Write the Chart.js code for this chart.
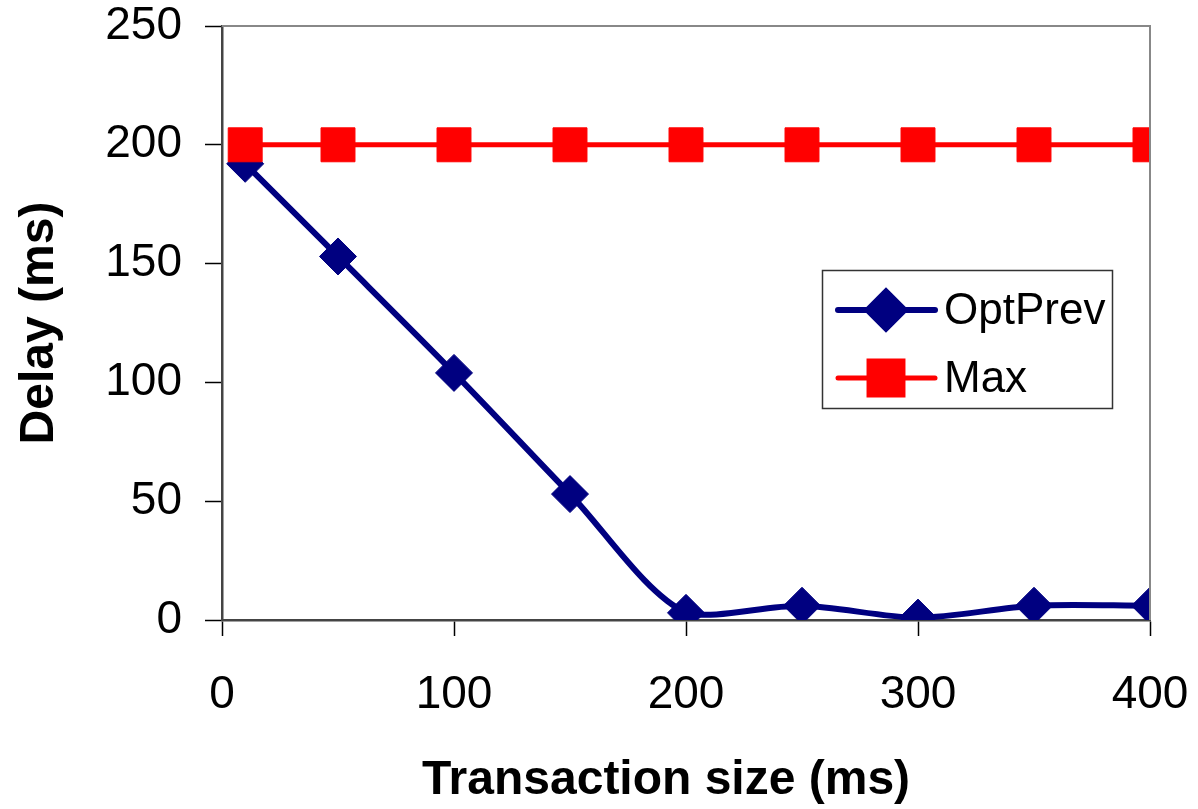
<!DOCTYPE html>
<html>
<head>
<meta charset="utf-8">
<script src="https://cdn.jsdelivr.net/npm/chart.js@4.4.1/dist/chart.umd.min.js"></script>
<style>
html,body{margin:0;padding:0;background:#fff;}
canvas{display:block;}
</style>
</head>
<body>
<canvas id="c" width="1198" height="809"></canvas>
<script>
// ---- data ----
const transactionSizes = [10, 50, 100, 150, 200, 250, 300, 350, 400];
const optPrevDelay = [192, 153, 104, 53, 3, 6, 1, 6, 6];
const maxDelay = [200, 200, 200, 200, 200, 200, 200, 200, 200];
const xTicks = [0, 100, 200, 300, 400];
const yTicks = [0, 50, 100, 150, 200, 250];
const seriesNames = ['OptPrev', 'Max'];
const xTitle = 'Transaction size (ms)';
const yTitle = 'Delay (ms)';

const FONT = '"Liberation Sans", Arial, sans-serif';
const NAVY = '#000080';
const RED = '#FF0000';

const toPoints = (xs, ys) => xs.map((x, i) => ({x: x, y: ys[i]}));

const frameAndLegend = {
  id: 'frameAndLegend',
  afterDatasetsDraw(chart) {
    const ctx = chart.ctx;
    const a = chart.chartArea;
    ctx.save();
    ctx.strokeStyle = '#888888';
    ctx.lineWidth = 2;
    ctx.beginPath();
    ctx.moveTo(a.left, a.top);
    ctx.lineTo(a.right, a.top);
    ctx.lineTo(a.right, a.bottom);
    ctx.stroke();
    ctx.restore();
  },
  afterDraw(chart) {
    const ctx = chart.ctx;
    const a = chart.chartArea;
    ctx.save();
    // x axis title (Excel centres it on the whole chart, slightly left of plot centre)
    ctx.fillStyle = '#000000';
    ctx.font = 'bold 48px ' + FONT;
    ctx.textAlign = 'center';
    ctx.textBaseline = 'middle';
    ctx.fillText(xTitle, (a.left + a.right) / 2 - 20, 781);

    const bx = 822, by = 270, bw = 290, bh = 138;
    ctx.fillStyle = '#ffffff';
    ctx.fillRect(bx, by, bw, bh);
    ctx.strokeStyle = '#333333';
    ctx.lineWidth = 1.5;
    ctx.strokeRect(bx + 0.5, by + 0.5, bw, bh);
    const rows = [310, 378];
    chart.data.datasets.forEach((ds, i) => {
      const y = rows[i];
      ctx.strokeStyle = ds.borderColor;
      ctx.lineWidth = ds.borderWidth;
      ctx.lineCap = 'round';
      ctx.beginPath();
      ctx.moveTo(838, y);
      ctx.lineTo(935, y);
      ctx.stroke();
      ctx.fillStyle = ds.pointBackgroundColor;
      ctx.strokeStyle = ds.pointBackgroundColor;
      Chart.helpers.drawPoint(ctx, {pointStyle: ds.pointStyle, radius: ds.pointRadius, borderWidth: 1, rotation: 0}, 886, y);
      ctx.fillStyle = '#000000';
      ctx.font = '44px ' + FONT;
      ctx.textAlign = 'left';
      ctx.textBaseline = 'middle';
      ctx.fillText(ds.label, 944, y + 2);
    });
    ctx.restore();
  }
};

new Chart(document.getElementById('c'), {
  type: 'line',
  data: {
    datasets: [
      {
        label: seriesNames[0],
        data: toPoints(transactionSizes, optPrevDelay),
        borderColor: NAVY,
        backgroundColor: NAVY,
        pointBackgroundColor: NAVY,
        pointBorderColor: NAVY,
        borderWidth: 6,
        pointStyle: 'rectRot',
        pointRadius: 18.5,
        pointBorderWidth: 1,
        tension: 0.3,
        order: 1
      },
      {
        label: seriesNames[1],
        data: toPoints(transactionSizes, maxDelay),
        borderColor: RED,
        backgroundColor: RED,
        pointBackgroundColor: RED,
        pointBorderColor: RED,
        borderWidth: 5,
        pointStyle: 'rect',
        pointRadius: 24,
        pointBorderWidth: 1,
        tension: 0,
        order: 0
      }
    ]
  },
  options: {
    responsive: false,
    animation: false,
    devicePixelRatio: 1,
    layout: {padding: {top: 26, right: 48, left: 0, bottom: 0}},
    plugins: {legend: {display: false}, tooltip: {enabled: false}},
    scales: {
      x: {
        type: 'linear',
        min: xTicks[0],
        max: xTicks[xTicks.length - 1],
        afterBuildTicks: s => { s.ticks = xTicks.map(v => ({value: v})); },
        afterFit: s => { s.height = 189; s.paddingLeft = 0; s.paddingRight = 0; },
        grid: {drawOnChartArea: false, drawTicks: true, tickLength: 16, tickColor: '#000', tickWidth: 1.5},
        border: {display: true, color: '#444444', width: 2.5},
        ticks: {font: {family: FONT, size: 46}, color: '#000', padding: 32, maxRotation: 0, autoSkip: false},
        title: {display: false, text: xTitle}
      },
      y: {
        type: 'linear',
        min: yTicks[0],
        max: yTicks[yTicks.length - 1],
        afterBuildTicks: s => { s.ticks = yTicks.map(v => ({value: v})); },
        afterFit: s => { s.width = 222; s.paddingTop = 0; s.paddingBottom = 0; },
        grid: {drawOnChartArea: false, drawTicks: true, tickLength: 17, tickColor: '#000', tickWidth: 1.5},
        border: {display: true, color: '#444444', width: 2.5},
        ticks: {font: {family: FONT, size: 46}, color: '#000', padding: 23},
        title: {display: true, text: yTitle, color: '#000', font: {family: FONT, size: 48, weight: 'bold', lineHeight: 1}, padding: {top: 16, bottom: 0}}
      }
    }
  },
  plugins: [frameAndLegend]
});
</script>
</body>
</html>
